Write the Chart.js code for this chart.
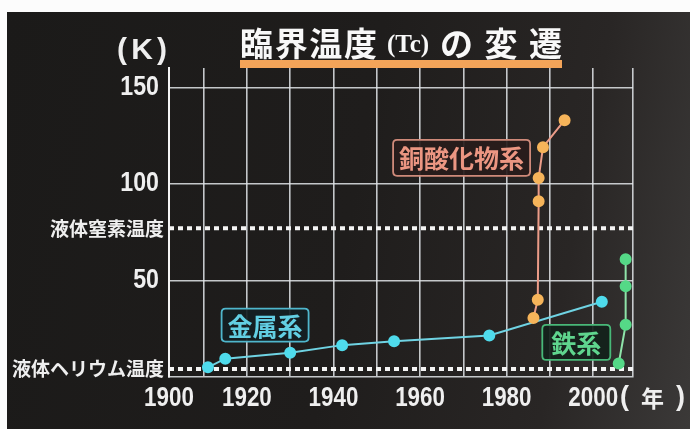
<!DOCTYPE html>
<html lang="ja">
<head>
<meta charset="utf-8">
<script src="https://cdn.jsdelivr.net/npm/chart.js@4.4.1/dist/chart.umd.min.js"></script>
<style>
  html, body { margin: 0; padding: 0; background: #fcfcfc; overflow: hidden; }
  #board {
    position: absolute; left: 7px; top: 12px; width: 683px; height: 417px;
    background: linear-gradient(100deg, #1b1a19 0%, #1f1d1c 50%, #292625 80%, #3b3938 100%);
  }
  canvas { display: block; }
</style>
</head>
<body>
<div id="board"><canvas id="tcChart" width="683" height="417"></canvas></div>
<script>
// 発見年 と 臨界温度 (K)
const metalYears = [1911, 1915, 1930, 1942, 1954, 1976, 2002];
const metalTc = [5, 9.5, 12.5, 16.5, 18.5, 21.5, 39];
const cuprateYears = [1986.2, 1987.2, 1987.4, 1987.4, 1988.4, 1993.4];
const cuprateTc = [30.5, 40, 91, 103, 119, 133];
const ironYears = [2005.9, 2007.5, 2007.5, 2007.5];
const ironTc = [7, 27, 47, 61];

const heliumTemp = 4.2;
const nitrogenTemp = 77;

const xMin = 1902;
const xMax = 2009.2;
const xGridYears = [1910, 1920, 1930, 1940, 1950, 1960, 1970, 1980, 1990, 2000];
const xTickYears = [1902, 1920, 1940, 1960, 1980, 2000];
const xTickLabels = ['1900', '1920', '1940', '1960', '1980', '2000'];
const yTickValues = [heliumTemp, 50, nitrogenTemp, 100, 150];
const yTickLabels = ['液体ヘリウム温度', '50', '液体窒素温度', '100', '150'];

const gridColor = 'rgba(226,229,233,0.85)';
const textColor = '#efefef';
const numFont = "'Liberation Sans', Arial, sans-serif";
const cjkFont = "'Noto Sans CJK JP', sans-serif";

// 系統ラベル (データ座標で中心を指定)
const tags = [
    { text: '金属系', year: 1924.2, tc: 26.9, w: 87, h: 33, color: '#62cfe3', border: '#4fb6cc', fill: 'rgba(20,30,34,0.92)' },
    { text: '銅酸化物系', year: 1969.6, tc: 113.5, w: 137, h: 36, color: '#ec9682', border: '#cf8a7a', fill: 'rgba(40,28,27,0.92)' },
    { text: '鉄系', year: 1996.1, tc: 17.9, w: 68, h: 35, color: '#5fd58e', border: '#48b878', fill: 'rgba(20,34,27,0.92)' }
];

function pts(xs, ys) {
    return xs.map((x, i) => ({ x: x, y: ys[i] }));
}

function isSpecial(v) {
    return v === heliumTemp || v === nitrogenTemp;
}

function roundBox(ctx, x, y, w, h, r) {
    ctx.beginPath();
    ctx.moveTo(x + r, y);
    ctx.lineTo(x + w - r, y);
    ctx.quadraticCurveTo(x + w, y, x + w, y + r);
    ctx.lineTo(x + w, y + h - r);
    ctx.quadraticCurveTo(x + w, y + h, x + w - r, y + h);
    ctx.lineTo(x + r, y + h);
    ctx.quadraticCurveTo(x, y + h, x, y + h - r);
    ctx.lineTo(x, y + r);
    ctx.quadraticCurveTo(x, y, x + r, y);
    ctx.closePath();
}

// 文字を x0..x1 に均等配置
function drawSpaced(ctx, pieces, x0, x1, y) {
    const widths = pieces.map(p => { ctx.font = p.font; return ctx.measureText(p.t).width; });
    const total = widths.reduce((a, b) => a + b, 0);
    const gap = pieces.length > 1 ? (x1 - x0 - total) / (pieces.length - 1) : 0;
    let x = x0;
    pieces.forEach((p, i) => {
        ctx.font = p.font;
        ctx.fillText(p.t, x, y);
        x += widths[i] + gap;
    });
}

// 細長い数字 (横方向に縮める)
function drawNarrow(ctx, text, x, y, size, squeeze, align) {
    ctx.save();
    ctx.translate(x, y);
    ctx.scale(squeeze, 1);
    ctx.font = 'bold ' + size + 'px ' + numFont;
    ctx.textAlign = align;
    ctx.fillText(text, 0, 0);
    ctx.restore();
}

const axisLabelPlugin = {
    id: 'axisLabels',
    afterDraw(chart) {
        const ctx = chart.ctx;
        const xs = chart.scales.x, ys = chart.scales.y;
        ctx.save();
        ctx.fillStyle = textColor;
        ctx.textBaseline = 'middle';
        xTickYears.forEach((v, i) => {
            drawNarrow(ctx, xTickLabels[i], xs.getPixelForValue(v), 386, 28, 0.8, 'center');
        });
        yTickValues.forEach((v, i) => {
            const py = ys.getPixelForValue(v);
            if (isSpecial(v)) {
                ctx.font = 'bold 19px ' + cjkFont;
                ctx.textAlign = 'right';
                ctx.fillText(yTickLabels[i], 157, py);
            } else {
                drawNarrow(ctx, yTickLabels[i], 152, py, 27, 0.86, 'right');
            }
        });
        ctx.restore();
    }
};

const tagPlugin = {
    id: 'tags',
    afterDatasetsDraw(chart) {
        const ctx = chart.ctx;
        const xs = chart.scales.x, ys = chart.scales.y;
        ctx.save();
        tags.forEach(t => {
            const cx = xs.getPixelForValue(t.year);
            const cy = ys.getPixelForValue(t.tc);
            roundBox(ctx, cx - t.w / 2, cy - t.h / 2, t.w, t.h, 4);
            ctx.fillStyle = t.fill;
            ctx.fill();
            ctx.lineWidth = 1.8;
            ctx.strokeStyle = t.border;
            ctx.stroke();
            ctx.fillStyle = t.color;
            ctx.font = 'bold 25px ' + cjkFont;
            ctx.textAlign = 'center';
            ctx.textBaseline = 'middle';
            ctx.fillText(t.text, cx, cy + 1);
        });
        ctx.restore();
    }
};

const headerPlugin = {
    id: 'header',
    afterDraw(chart) {
        const ctx = chart.ctx;
        ctx.save();
        ctx.fillStyle = '#f8f8f8';
        ctx.textAlign = 'left';
        ctx.textBaseline = 'middle';

        const big = 'bold 33px ' + cjkFont;
        drawSpaced(ctx, '臨界温度'.split('').map(c => ({ t: c, font: big })), 233, 370, 31);
        ctx.font = "bold 25px 'Liberation Serif', serif";
        ctx.textAlign = 'center';
        ctx.fillText('(Tc)', 401, 34);
        ctx.textAlign = 'left';
        drawSpaced(ctx, 'の変遷'.split('').map(c => ({ t: c, font: big })), 433, 555, 31);

        ctx.fillStyle = '#f3a459';
        ctx.fillRect(233, 48, 322, 8);

        ctx.fillStyle = textColor;
        const kf = "bold 30px 'Liberation Sans', sans-serif";
        drawSpaced(ctx, ['(', 'K', ')'].map(c => ({ t: c, font: kf })), 110, 160, 39);

        const pf = "bold 27px 'Liberation Sans', sans-serif";
        drawSpaced(ctx, [
            { t: '(', font: pf },
            { t: '年', font: 'bold 23px ' + cjkFont },
            { t: ')', font: pf }
        ], 613, 678, 386);
        ctx.restore();
    }
};

new Chart(document.getElementById('tcChart'), {
    type: 'line',
    data: {
        datasets: [
            {
                label: '金属系',
                data: pts(metalYears, metalTc),
                borderColor: '#6fd3e3',
                backgroundColor: '#4fdbec',
                pointBackgroundColor: '#4fdbec',
                pointBorderColor: '#4fdbec',
                borderWidth: 2,
                pointRadius: 5,
                order: 2
            },
            {
                label: '銅酸化物系',
                data: pts(cuprateYears, cuprateTc),
                borderColor: '#ec9c88',
                backgroundColor: '#f6b45a',
                pointBackgroundColor: '#f6b45a',
                pointBorderColor: '#f6b45a',
                borderWidth: 2,
                pointRadius: 5,
                order: 1
            },
            {
                label: '鉄系',
                data: pts(ironYears, ironTc),
                borderColor: '#8fe3a9',
                backgroundColor: '#55d987',
                pointBackgroundColor: '#55d987',
                pointBorderColor: '#55d987',
                borderWidth: 2,
                pointRadius: 5,
                order: 1
            },
            {
                label: '液体窒素温度',
                data: pts([xMin, xMax], [nitrogenTemp, nitrogenTemp]),
                borderColor: '#f4f4f4',
                borderWidth: 4,
                borderDash: [5, 4],
                pointRadius: 0,
                order: 5
            },
            {
                label: '液体ヘリウム温度',
                data: pts([xMin, xMax], [heliumTemp, heliumTemp]),
                borderColor: '#f4f4f4',
                borderWidth: 4,
                borderDash: [5, 4],
                pointRadius: 0,
                order: 5
            }
        ]
    },
    options: {
        responsive: false,
        animation: false,
        layout: { padding: { left: 0, top: 56, right: 57, bottom: 0 } },
        plugins: {
            legend: { display: false },
            title: { display: false },
            tooltip: { enabled: false }
        },
        scales: {
            x: {
                type: 'linear',
                min: xMin,
                max: xMax,
                afterBuildTicks: s => { s.ticks = [xMin, ...xGridYears, xMax].map(v => ({ value: v })); },
                afterFit: s => { s.height = 52; },
                grid: { color: gridColor, lineWidth: 1.6, drawTicks: false },
                border: { display: true, color: gridColor, width: 1.6 },
                ticks: { display: false }
            },
            y: {
                type: 'linear',
                min: 0,
                max: 160,
                afterBuildTicks: s => { s.ticks = yTickValues.map(v => ({ value: v })); },
                afterFit: s => { s.width = 162; },
                grid: {
                    color: ctx => (ctx.tick && isSpecial(ctx.tick.value)) ? 'rgba(0,0,0,0)' : gridColor,
                    lineWidth: 1.6,
                    drawTicks: false
                },
                border: { display: true, color: '#f4f4f4', width: 2 },
                ticks: { display: false }
            }
        }
    },
    plugins: [tagPlugin, axisLabelPlugin, headerPlugin]
});
</script>
</body>
</html>
